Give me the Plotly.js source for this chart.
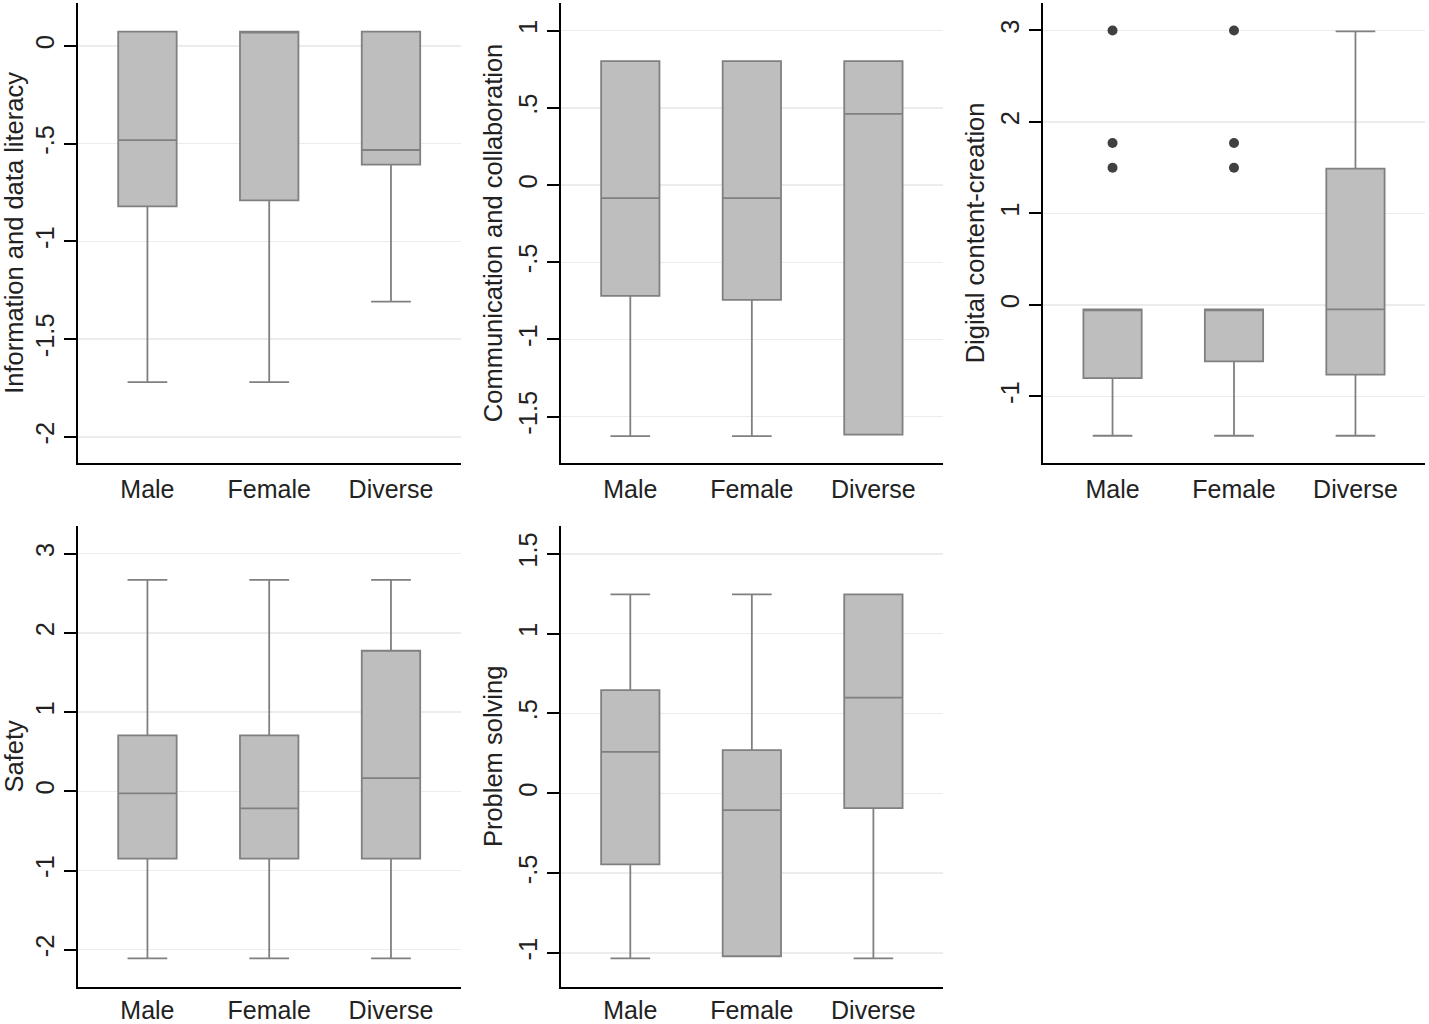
<!DOCTYPE html>
<html>
<head>
<meta charset="utf-8">
<script src="https://cdn.plot.ly/plotly-3.0.1.min.js"></script>
<style>html,body{margin:0;padding:0;background:#fff;}</style>
</head>
<body>
<div id="chart" style="width:1429px;height:1024px;"></div>
<script>
// Categories
const groups = ['Male', 'Female', 'Diverse'];

// Panel 1: Information and data literacy
const p1_title = 'Information and data literacy';
const p1_lower = [-1.72, -1.72, -1.308];
const p1_q1 = [-0.82, -0.79, -0.607];
const p1_median = [-0.482, 0.073, -0.532];
const p1_q3 = [0.073, 0.073, 0.073];
const p1_upper = [0.073, 0.073, 0.073];
const p1_tickvals = [0, -0.5, -1, -1.5, -2];
const p1_ticktext = ['0', '-.5', '-1', '-1.5', '-2'];

// Panel 2: Communication and collaboration
const p2_title = 'Communication and collaboration';
const p2_lower = [-1.626, -1.626, -1.617];
const p2_q1 = [-0.717, -0.743, -1.617];
const p2_median = [-0.084, -0.084, 0.462];
const p2_q3 = [0.803, 0.803, 0.803];
const p2_upper = [0.803, 0.803, 0.803];
const p2_tickvals = [1, 0.5, 0, -0.5, -1, -1.5];
const p2_ticktext = ['1', '.5', '0', '-.5', '-1', '-1.5'];

// Panel 3: Digital content-creation
const p3_title = 'Digital content-creation';
const p3_lower = [-1.43, -1.43, -1.43];
const p3_q1 = [-0.80, -0.616, -0.762];
const p3_median = [-0.048, -0.048, -0.048];
const p3_q3 = [-0.048, -0.048, 1.49];
const p3_upper = [-0.048, -0.048, 2.99];
const p3_out_x = ['Male', 'Male', 'Male', 'Female', 'Female', 'Female'];
const p3_out_y = [3.0, 1.77, 1.50, 3.0, 1.77, 1.50];
const p3_tickvals = [3, 2, 1, 0, -1];
const p3_ticktext = ['3', '2', '1', '0', '-1'];

// Panel 4: Safety
const p4_title = 'Safety';
const p4_lower = [-2.11, -2.11, -2.11];
const p4_q1 = [-0.85, -0.85, -0.85];
const p4_median = [-0.025, -0.215, 0.168];
const p4_q3 = [0.707, 0.707, 1.775];
const p4_upper = [2.67, 2.67, 2.67];
const p4_tickvals = [3, 2, 1, 0, -1, -2];
const p4_ticktext = ['3', '2', '1', '0', '-1', '-2'];

// Panel 5: Problem solving
const p5_title = 'Problem solving';
const p5_lower = [-1.033, -1.02, -1.033];
const p5_q1 = [-0.445, -1.02, -0.092];
const p5_median = [0.26, -0.105, 0.599];
const p5_q3 = [0.647, 0.271, 1.246];
const p5_upper = [1.246, 1.246, 1.246];
const p5_tickvals = [1.5, 1, 0.5, 0, -0.5, -1];
const p5_ticktext = ['1.5', '1', '.5', '0', '-.5', '-1'];

const FONT = 'Liberation Sans, Arial, sans-serif';
const BOXFILL = '#bebebe';
const BOXLINE = '#808080';

function boxTrace(ax, lower, q1, med, q3, upper) {
  return {
    type: 'box',
    x: groups,
    lowerfence: lower, q1: q1, median: med, q3: q3, upperfence: upper,
    xaxis: 'x' + ax, yaxis: 'y' + ax,
    fillcolor: BOXFILL,
    line: {color: BOXLINE, width: 1.8},
    width: 0.48,
    whiskerwidth: 0.68,
    boxpoints: false,
    showlegend: false,
    hoverinfo: 'skip'
  };
}

const traces = [
  boxTrace('', p1_lower, p1_q1, p1_median, p1_q3, p1_upper),
  boxTrace('2', p2_lower, p2_q1, p2_median, p2_q3, p2_upper),
  boxTrace('3', p3_lower, p3_q1, p3_median, p3_q3, p3_upper),
  boxTrace('4', p4_lower, p4_q1, p4_median, p4_q3, p4_upper),
  boxTrace('5', p5_lower, p5_q1, p5_median, p5_q3, p5_upper),
  {
    type: 'scatter', mode: 'markers',
    x: p3_out_x, y: p3_out_y,
    xaxis: 'x3', yaxis: 'y3',
    marker: {color: '#404040', size: 10, symbol: 'circle'},
    showlegend: false, hoverinfo: 'skip'
  }
];

function xAxis(domain, anchor, standoff) {
  return {
    domain: domain, anchor: anchor,
    type: 'category',
    categoryorder: 'array', categoryarray: groups,
    range: [-0.57, 2.575],
    showline: true, linecolor: '#000', linewidth: 2,
    ticks: '', showgrid: false, zeroline: false,
    ticklabelstandoff: standoff,
    tickfont: {family: FONT, size: 25, color: '#222'},
    fixedrange: true, automargin: false
  };
}
function yAxis(domain, anchor, range, tv, tt, title) {
  return {
    domain: domain, anchor: anchor,
    range: range,
    tickmode: 'array', tickvals: tv, ticktext: tt,
    tickangle: -90,
    showline: true, linecolor: '#000', linewidth: 2,
    ticks: 'outside', ticklen: 12, tickwidth: 2, tickcolor: '#000',
    showgrid: true, gridcolor: '#ececec', gridwidth: 1.5,
    zeroline: false,
    tickfont: {family: FONT, size: 25.5, color: '#222'},
    title: {text: title, font: {family: FONT, size: 25.5, color: '#222'}, standoff: 4},
    fixedrange: true, automargin: false
  };
}

const dTop = [0.5479, 0.9971];
const dBot = [0.0364, 0.4863];
const c1 = [0.0546, 0.3226];
const c2 = [0.3926, 0.6601];
const c3 = [0.7301, 0.9974];

const layout = {
  width: 1429, height: 1024,
  margin: {l: 0, r: 0, t: 0, b: 0},
  paper_bgcolor: '#fff', plot_bgcolor: '#fff',
  showlegend: false,
  xaxis: xAxis(c1, 'y', 3),
  yaxis: yAxis(dTop, 'x', [-2.133, 0.22], p1_tickvals, p1_ticktext, p1_title),
  xaxis2: xAxis(c2, 'y2', 3),
  yaxis2: yAxis(dTop, 'x2', [-1.80, 1.18], p2_tickvals, p2_ticktext, p2_title),
  xaxis3: xAxis(c3, 'y3', 3),
  yaxis3: yAxis(dTop, 'x3', [-1.727, 3.30], p3_tickvals, p3_ticktext, p3_title),
  xaxis4: xAxis(c1, 'y4', 0),
  yaxis4: yAxis(dBot, 'x4', [-2.467, 3.35], p4_tickvals, p4_ticktext, p4_title),
  xaxis5: xAxis(c2, 'y5', 0),
  yaxis5: yAxis(dBot, 'x5', [-1.211, 1.674], p5_tickvals, p5_ticktext, p5_title)
};

Plotly.newPlot('chart', traces, layout, {staticPlot: true, displayModeBar: false});
</script>
</body>
</html>
